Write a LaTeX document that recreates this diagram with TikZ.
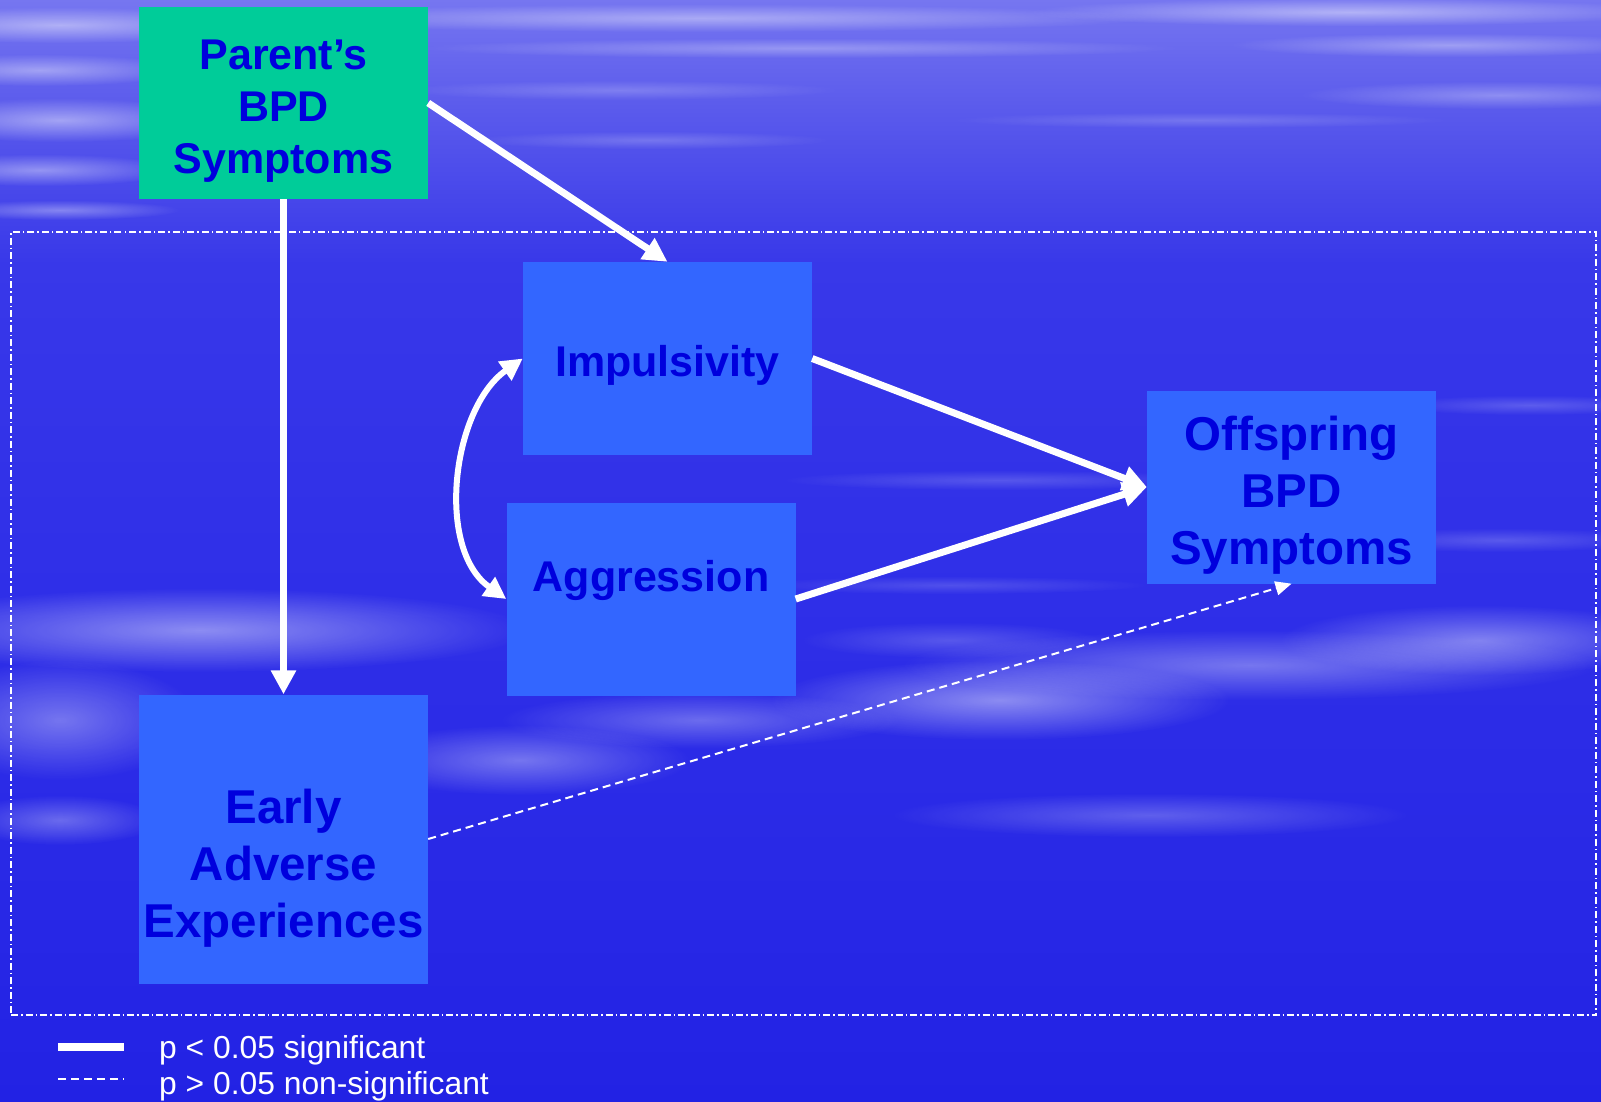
\documentclass[tikz,border=0pt]{standalone}
\usepackage{fontspec}
\setmainfont{Liberation Sans}
\usetikzlibrary{arrows.meta,fadings}
\definecolor{boxblue}{HTML}{3366FF}
\definecolor{boxgreen}{HTML}{00CC99}
\definecolor{txtblue}{HTML}{0000DD}
\definecolor{bgtop}{HTML}{7676F0}
\definecolor{bgup}{HTML}{5A5AEC}
\definecolor{bgmid2}{HTML}{3838E9}
\definecolor{bgmid}{HTML}{3030E8}
\definecolor{bgbot2}{HTML}{2828E6}
\definecolor{bgbot}{HTML}{2222E4}
\tikzfading[name=softfade, inner color=transparent!0, outer color=transparent!100]
\pgfdeclareverticalshading{bgshade}{100bp}{color(0bp)=(bgbot); color(25bp)=(bgbot); color(34bp)=(bgbot2); color(50bp)=(bgmid); color(63bp)=(bgmid2); color(70bp)=(bgup); color(75bp)=(bgtop); color(100bp)=(bgtop)}
\tikzset{
  cloud/.style={white, opacity=#1, path fading=softfade},
  cloud/.default=0.35,
  boxbase/.style={rectangle, inner sep=0pt, minimum width=289pt, align=center, text=txtblue, font=\bfseries},
  smallbox/.style={boxbase, fill=boxblue, minimum height=193pt, font=\bfseries\fontsize{43}{52}\selectfont},
  bigtxt/.style={font=\bfseries\fontsize{47.5}{57}\selectfont},
  sig/.style={draw=white, line width=7pt, -{Triangle[length=24pt,width=24pt]}},
  nonsig/.style={draw=white, line width=2pt, dash pattern=on 8pt off 5pt, -{Triangle[length=16pt,width=14pt]}},
  legtext/.style={anchor=base west, text=white, font=\fontsize{31.8}{36}\selectfont, inner sep=0pt}
}
\begin{document}
\begin{tikzpicture}[x=1pt,y=-1pt]
\useasboundingbox (0,0) rectangle (1601,1101);
% background
\shade[shading=bgshade] (0,0) rectangle (1601,1101);
\begin{scope}
\clip (0,0) rectangle (1601,1101);
% top streaks
\fill[cloud=0.45] (60,25) ellipse (200 and 18);
\fill[cloud=0.40] (40,70) ellipse (150 and 16);
\fill[cloud=0.45] (60,120) ellipse (160 and 22);
\fill[cloud=0.40] (40,170) ellipse (140 and 16);
\fill[cloud=0.35] (60,210) ellipse (120 and 10);
\fill[cloud=0.40] (700,18) ellipse (450 and 14);
\fill[cloud=0.30] (800,48) ellipse (380 and 10);
\fill[cloud=0.45] (1350,12) ellipse (320 and 14);
\fill[cloud=0.35] (1450,45) ellipse (220 and 12);
\fill[cloud=0.30] (1500,95) ellipse (200 and 14);
\fill[cloud=0.20] (620,90) ellipse (220 and 10);
\fill[cloud=0.20] (650,140) ellipse (180 and 9);
\fill[cloud=0.18] (1200,120) ellipse (250 and 8);
\fill[cloud=0.20] (1530,405) ellipse (140 and 10);
\fill[cloud=0.20] (1500,540) ellipse (160 and 12);
\fill[cloud=0.18] (1000,480) ellipse (220 and 10);
\fill[cloud=0.16] (950,585) ellipse (200 and 9);
% cloud band
\fill[cloud=0.45] (200,630) ellipse (330 and 42);
\fill[cloud=0.35] (60,720) ellipse (140 and 60);
\fill[cloud=0.30] (60,820) ellipse (100 and 25);
\fill[cloud=0.35] (520,760) ellipse (170 and 35);
\fill[cloud=0.30] (700,720) ellipse (200 and 28);
\fill[cloud=0.45] (1000,700) ellipse (230 and 40);
\fill[cloud=0.35] (1250,665) ellipse (350 and 35);
\fill[cloud=0.40] (1480,640) ellipse (200 and 35);
\fill[cloud=0.25] (1150,815) ellipse (260 and 22);
\fill[cloud=0.20] (950,640) ellipse (150 and 18);
\end{scope}
% frame
\node[draw=white, line width=1.5pt, dash pattern=on 7pt off 3pt on 1.5pt off 3pt, rectangle, inner sep=0pt, minimum width=1585pt, minimum height=783pt] (frame) at (803.5,623.5) {};
% boxes
\node[boxbase, fill=boxgreen, minimum height=192pt, font=\bfseries\fontsize{43}{52}\selectfont] (parent) at (283.5,103) {\rule{0pt}{45pt}Parent’s\\BPD\\Symptoms};
\node[smallbox] (imp) at (667.5,358.5) {\rule{0pt}{44pt}Impulsivity};
\node[smallbox] (agg) at (651,599) {\rule{0pt}{37.5pt}Aggression\\\mbox{}};
\node[boxbase, bigtxt, fill=boxblue, minimum height=193pt] (off) at (1291.5,487) {\rule{0pt}{50pt}Offspring\\BPD\\Symptoms};
\node[boxbase, bigtxt, fill=boxblue, minimum height=289pt] (early) at (283.5,839) {\rule{0pt}{35pt}\\Early\\Adverse\\Experiences};
% connectors
\draw[sig] (parent.east) -- (imp.north);
\draw[sig] (parent.south) -- (early.north);
\draw[sig] (imp.east) -- (off.west);
\draw[sig] (agg.east) -- (off.west);
\draw[draw=white, line width=6pt, {Triangle[length=22pt,width=22pt]}-{Triangle[length=22pt,width=22pt]}] (imp.west) .. controls +(-71,50) and +(-71,-50) .. (agg.west);
\draw[nonsig] (early.east) -- (off.south);
% legend
\coordinate (l1a) at (58,1047);
\coordinate (l1b) at (124,1047);
\coordinate (l2a) at (58,1079);
\coordinate (l2b) at (124,1079);
\draw[white, line width=8pt] (l1a) -- (l1b);
\draw[white, line width=1.5pt, dash pattern=on 8pt off 5pt] (l2a) -- (l2b);
\node[legtext] (leg1) at (159,1058) {p < 0.05 significant};
\node[legtext] (leg2) at (159,1094) {p > 0.05 non-significant};
\end{tikzpicture}
\end{document}
